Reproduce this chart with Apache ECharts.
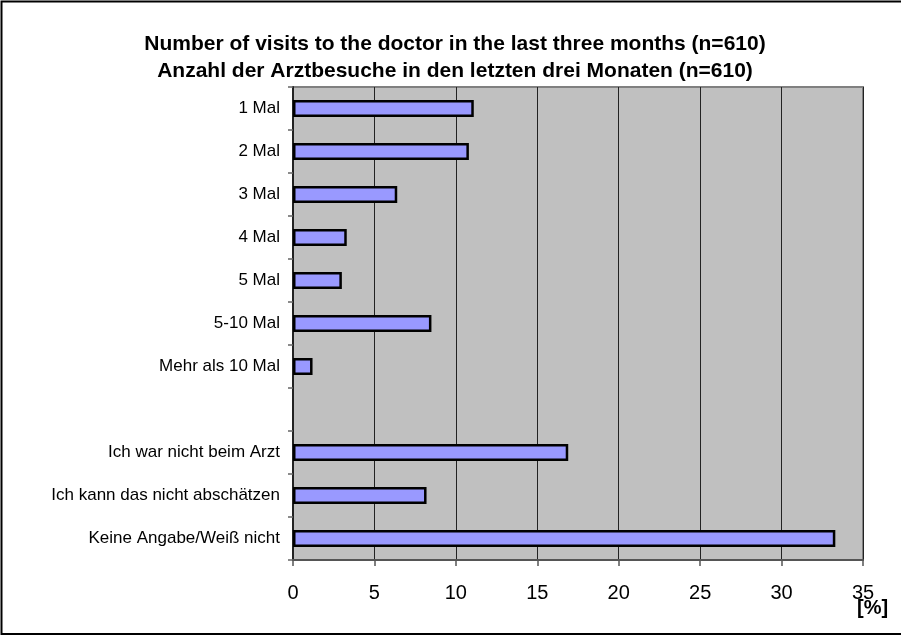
<!DOCTYPE html>
<html>
<head>
<meta charset="utf-8">
<script src="https://cdn.jsdelivr.net/npm/echarts@6/dist/echarts.min.js"></script>
<style>
  html, body { margin: 0; padding: 0; background: #fff; }
  #chart { width: 901px; height: 637px; }
</style>
</head>
<body>
<div id="chart"></div>
<script>
// Answer categories (the empty entry is a spacer row between groups)
const categories = [
  '1 Mal', '2 Mal', '3 Mal', '4 Mal', '5 Mal', '5-10 Mal', 'Mehr als 10 Mal',
  '',
  'Ich war nicht beim Arzt', 'Ich kann das nicht abschätzen', 'Keine Angabe/Weiß nicht'
];
// Share of respondents in percent
const percentValues = [11.1, 10.8, 6.4, 3.3, 3.0, 8.5, 1.2, null, 16.9, 8.2, 33.3];
// Value axis range and step
const axisMin = 0;
const axisMax = 35;
const axisStep = 5;

const titleLines = [
  'Number of visits to the doctor in the last three months (n=610)',
  'Anzahl der Arztbesuche in den letzten drei Monaten (n=610)'
];

const chart = echarts.init(document.getElementById('chart'), null, { renderer: 'canvas' });

chart.setOption({
  animation: false,
  backgroundColor: '#ffffff',
  textStyle: { fontFamily: 'Liberation Sans, Arial, sans-serif' },
  title: {
    text: titleLines.join('\n'),
    left: 450,
    top: 26,
    textAlign: 'center',
    textStyle: {
      fontFamily: 'Liberation Sans, Arial, sans-serif',
      fontWeight: 'bold',
      fontSize: 21,
      lineHeight: 26.5,
      color: '#000'
    }
  },
  grid: {
    left: 293,
    right: 38,
    top: 87,
    bottom: 77,
    show: true,
    backgroundColor: '#c0c0c0',
    borderColor: '#808080',
    borderWidth: 2
  },
  xAxis: {
    type: 'value',
    min: axisMin,
    max: axisMax,
    interval: axisStep,
    axisLine: { show: true, onZero: false, lineStyle: { color: '#555', width: 2 } },
    axisTick: { show: true, length: 6, lineStyle: { color: '#555', width: 1.5 } },
    axisLabel: {
      fontSize: 20,
      color: '#000',
      margin: 23,
      fontFamily: 'Liberation Sans, Arial, sans-serif'
    },
    splitLine: { show: true, lineStyle: { color: '#222', width: 1 } }
  },
  yAxis: {
    type: 'category',
    data: categories,
    inverse: true,
    axisLine: { show: true, lineStyle: { color: '#222', width: 2 } },
    axisTick: { show: true, length: 5, lineStyle: { color: '#666', width: 1.5 } },
    axisLabel: {
      fontSize: 17,
      color: '#000',
      margin: 13,
      fontFamily: 'Liberation Sans, Arial, sans-serif'
    },
    splitLine: { show: false }
  },
  series: [{
    type: 'bar',
    data: percentValues,
    barWidth: 17,
    itemStyle: {
      color: '#9999ff',
      borderColor: '#000',
      borderWidth: 2.5
    }
  }],
  graphic: [
    {
      type: 'rect',
      shape: { x: 1.5, y: 1.5, width: 920, height: 632.5 },
      style: { fill: 'none', stroke: '#000', lineWidth: 2 },
      silent: true
    },
    {
      type: 'text',
      left: 857,
      top: 598,
      style: {
        text: '[%]',
        fontFamily: 'Liberation Sans, Arial, sans-serif',
        fontWeight: 'bold',
        fontSize: 20,
        fill: '#000'
      }
    }
  ]
});
</script>
</body>
</html>
